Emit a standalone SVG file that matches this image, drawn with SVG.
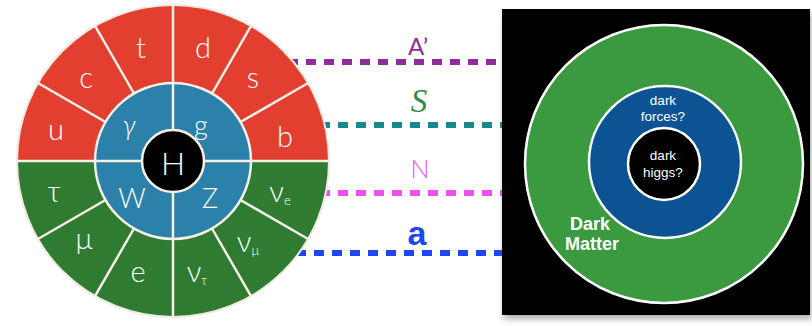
<svg xmlns="http://www.w3.org/2000/svg" width="812" height="326" viewBox="0 0 812 326">
  <defs>
    <filter id="shadow" x="-10%" y="-10%" width="120%" height="120%">
      <feGaussianBlur stdDeviation="3"/>
    </filter>
  </defs>
  <style>
    .p { font-family: "Lato", "Liberation Sans", sans-serif; font-weight: 300; fill: #ffffff; text-anchor: middle; }
    .o { font-size: 29px; }
    .i { font-size: 27px; }
    .sub { font-size: 13px; }
    .div { stroke: #f6f1e4; stroke-width: 2.5; fill: none; }
    .dash { fill: none; stroke-width: 6; stroke-dasharray: 10 8; }
    .ring { stroke: #ffffff; stroke-width: 2.5; }
    .dm { font-family: "Liberation Sans", Arial, sans-serif; fill: #ffffff; text-anchor: middle; }
    .small { font-size: 13.5px; }
  </style>
  <rect width="812" height="326" fill="#ffffff"/>

  <g id="connectors">
    <line class="dash" x1="288" y1="62" x2="502" y2="62" stroke="#8f2d9a"/>
    <line class="dash" x1="320" y1="125" x2="502" y2="125" stroke="#168a8a"/>
    <line class="dash" x1="320" y1="193" x2="502" y2="193" stroke="#f04ff0"/>
    <line class="dash" x1="296" y1="253" x2="502" y2="253" stroke="#1f45f5" stroke-dasharray="10 13"/>
    <text x="418" y="55" font-family="Lato, 'Liberation Sans', sans-serif" font-size="24" fill="#8f2d9a" text-anchor="middle">A’</text>
    <text x="419" y="112" font-family="'Liberation Serif', 'Times New Roman', serif" font-style="italic" font-size="33" fill="#2e8b45" text-anchor="middle">S</text>
    <text x="420" y="178" font-family="Lato, 'Liberation Sans', sans-serif" font-weight="300" font-size="25" fill="#f04ff0" text-anchor="middle">N</text>
    <text x="417" y="245" font-family="'Liberation Sans', Arial, sans-serif" font-weight="bold" font-size="34" fill="#1f45f5" text-anchor="middle">a</text>
  </g>

  <g id="standard-model">
    <path d="M 17 161 A 156 156 0 0 1 329 161 Z" fill="#e23f31"/>
    <path d="M 17 161 A 156 156 0 0 0 329 161 Z" fill="#2e7b31"/>
    <circle cx="173" cy="161" r="156" fill="none" stroke="#efeae0" stroke-width="2"/>
    <circle cx="173" cy="161" r="78" fill="#2b81aa"/>
    <line class="div" x1="17" y1="161" x2="329" y2="161"/>
    <line class="div" x1="173" y1="5" x2="173" y2="317"/>
    <line class="div" x1="105.5" y1="122" x2="37.9" y2="83"/>
    <line class="div" x1="134" y1="93.5" x2="95" y2="25.9"/>
    <line class="div" x1="212" y1="93.5" x2="251" y2="25.9"/>
    <line class="div" x1="240.5" y1="122" x2="308.1" y2="83"/>
    <line class="div" x1="240.5" y1="200" x2="308.1" y2="239"/>
    <line class="div" x1="212" y1="228.5" x2="251" y2="296.1"/>
    <line class="div" x1="134" y1="228.5" x2="95" y2="296.1"/>
    <line class="div" x1="105.5" y1="200" x2="37.9" y2="239"/>
    <circle class="div" cx="173" cy="161" r="78"/>
    <circle cx="173" cy="161" r="31" fill="#000000" stroke="#f6f1e4" stroke-width="2.5"/>

    <text class="p o" x="56" y="140">u</text>
    <text class="p o" x="86" y="88">c</text>
    <text class="p o" x="141" y="58">t</text>
    <text class="p o" x="203" y="58">d</text>
    <text class="p o" x="253" y="88">s</text>
    <text class="p o" x="285" y="147">b</text>
    <text class="p o" x="54" y="202">τ</text>
    <text class="p o" x="84" y="249">μ</text>
    <text class="p o" x="138" y="282">e</text>
    <text class="p o" x="197" y="282">ν<tspan class="sub" dy="3">τ</tspan></text>
    <text class="p o" x="248" y="252">ν<tspan class="sub" dy="3">μ</tspan></text>
    <text class="p o" x="280" y="202">ν<tspan class="sub" dy="3">e</tspan></text>
    <text class="p i" x="129" y="135" font-style="italic">γ</text>
    <text class="p i" x="201" y="135">g</text>
    <text class="p i" x="132" y="208">W</text>
    <text class="p i" x="210" y="208">Z</text>
    <text class="p" x="173" y="175" font-size="32">H</text>
  </g>

  <g id="dark-sector">
    <rect x="504" y="13" width="308" height="306" fill="#777777" opacity="0.6" filter="url(#shadow)"/>
    <rect x="502" y="9" width="308" height="306" fill="#000000"/>
    <circle class="ring" cx="664" cy="164" r="139" fill="#3b9a3f"/>
    <circle class="ring" cx="665" cy="162" r="76" fill="#0c5394"/>
    <circle class="ring" cx="664" cy="164" r="36" fill="#000000"/>
    <text class="dm small" x="663" y="105">dark</text>
    <text class="dm small" x="663" y="121">forces?</text>
    <text class="dm small" x="663" y="160">dark</text>
    <text class="dm small" x="663" y="177">higgs?</text>
    <text class="dm" x="590" y="230" font-size="18" font-weight="bold">Dark</text>
    <text class="dm" x="592" y="250" font-size="18" font-weight="bold">Matter</text>
  </g>
</svg>
